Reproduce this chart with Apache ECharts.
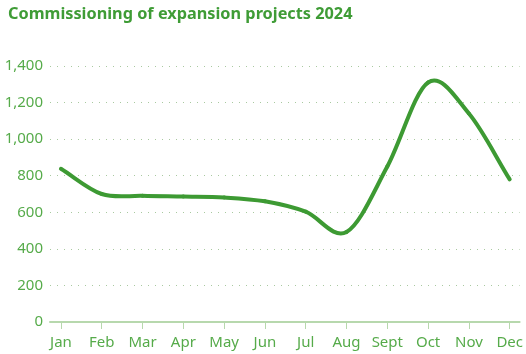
<!DOCTYPE html>
<html>
<head>
<meta charset="utf-8">
<script src="https://cdn.jsdelivr.net/npm/echarts@6/dist/echarts.min.js"></script>
<style>
  html, body { margin: 0; padding: 0; background: #fff; }
  #chart { width: 526px; height: 354px; }
</style>
</head>
<body>
<div id="chart"></div>
<script>
const months = ['Jan', 'Feb', 'Mar', 'Apr', 'May', 'Jun', 'Jul', 'Aug', 'Sept', 'Oct', 'Nov', 'Dec'];
const values = [838, 700, 690, 686, 681, 660, 603, 492, 850, 1310, 1140, 780];
const yTicks = [0, 200, 400, 600, 800, 1000, 1200, 1400];

const chart = echarts.init(document.getElementById('chart'));
const labelColor = '#56ab4a';
const lineColor = '#3d9a33';
const monthIdx = months.map((m, i) => i);

// catmull-rom segment from point i to i+1, built from axis coords
function renderSegment(params, api) {
  const i = params.dataIndex;
  const n = values.length;
  if (i >= n - 1) return null;
  const pt = k => api.coord([k, values[k]]);
  const p1 = pt(i), p2 = pt(i + 1);
  // mirror the neighbour at the ends so the curve leaves them straight
  const p0 = i > 0 ? pt(i - 1) : [2 * p1[0] - p2[0], 2 * p1[1] - p2[1]];
  const p3 = i + 2 < n ? pt(i + 2) : [2 * p2[0] - p1[0], 2 * p2[1] - p1[1]];
  return {
    type: 'bezierCurve',
    shape: {
      x1: p1[0], y1: p1[1],
      x2: p2[0], y2: p2[1],
      cpx1: p1[0] + (p2[0] - p0[0]) / 6,
      cpy1: p1[1] + (p2[1] - p0[1]) / 6,
      cpx2: p2[0] - (p3[0] - p1[0]) / 6,
      cpy2: p2[1] - (p3[1] - p1[1]) / 6
    },
    style: { stroke: lineColor, lineWidth: 4, fill: null, lineCap: 'round' }
  };
}

chart.setOption({
  animation: false,
  title: {
    text: 'Commissioning of expansion projects 2024',
    left: 3,
    top: 1,
    textStyle: {
      fontFamily: 'Noto Sans',
      fontWeight: 'bold',
      fontSize: 16.3,
      color: '#3f9c36'
    }
  },
  grid: { left: 50, right: 3, top: 66, bottom: 32 },
  xAxis: {
    type: 'value',
    min: -0.268,
    max: 11.243,
    axisLine: { show: true, lineStyle: { color: '#b7d8ad', width: 2 } },
    axisTick: {
      show: true,
      customValues: monthIdx,
      length: 7,
      lineStyle: { color: '#b7d8ad', width: 1 }
    },
    axisLabel: {
      customValues: monthIdx,
      formatter: v => months[Math.round(v)],
      color: labelColor,
      fontFamily: 'Noto Sans',
      fontSize: 15,
      margin: 13
    },
    splitLine: { show: false }
  },
  yAxis: {
    type: 'value',
    min: 0,
    max: 1400,
    interval: 200,
    axisLine: { show: false },
    axisTick: { show: false },
    axisLabel: {
      color: labelColor,
      fontFamily: 'Noto Sans',
      fontSize: 15,
      margin: 7,
      formatter: v => yTicks.includes(v) ? v.toLocaleString('en-US') : ''
    },
    splitLine: { lineStyle: { color: '#a9c9a0', type: [1, 6], width: 1 } }
  },
  series: [{
    type: 'custom',
    clip: false,
    renderItem: renderSegment,
    encode: { x: 0, y: 1 },
    data: values.map((v, i) => [i, v])
  }]
});
</script>
</body>
</html>
